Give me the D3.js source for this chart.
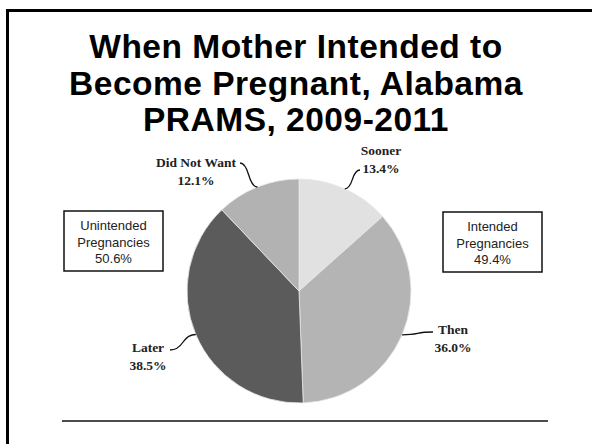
<!DOCTYPE html>
<html><head><meta charset="utf-8">
<script src="https://cdn.jsdelivr.net/npm/d3@7"></script>
<style>html,body{margin:0;padding:0;background:#fff;}svg{display:block;}</style>
</head><body>
<svg id="chart" width="592" height="444"></svg>
<script>
const titleLines = ["When Mother Intended to", "Become Pregnant, Alabama", "PRAMS, 2009-2011"];
const categories = ["Sooner", "Then", "Later", "Did Not Want"];
const values = [13.4, 36.0, 38.5, 12.1];
const colors = ["#e1e1e1", "#b4b4b4", "#5b5b5b", "#b2b2b2"];
const groupTitles = [["Unintended", "Pregnancies"], ["Intended", "Pregnancies"]];
const groupValues = [50.6, 49.4];

const svg = d3.select("#chart");
// frame
svg.append("path").attr("d", "M7.5,600 V10.5 H700").attr("fill", "none").attr("stroke", "#000").attr("stroke-width", 3);

// title
svg.append("g").selectAll("text").data(titleLines).join("text")
  .attr("x", 296).attr("y", (d, i) => 58 + i * 36.5)
  .attr("text-anchor", "middle")
  .attr("font-family", "'Liberation Sans', Arial, sans-serif")
  .attr("font-weight", "bold").attr("font-size", 33.5)
  .attr("letter-spacing", 0.5)
  .text(d => d);

const cx = 299, cy = 291, r = 112;
const pie = d3.pie().sort(null).value(d => d)(values);
const arc = d3.arc().innerRadius(0).outerRadius(r);
const g = svg.append("g").attr("transform", `translate(${cx},${cy})`);
g.selectAll("path").data(pie).join("path")
  .attr("d", arc).attr("fill", (d, i) => colors[i])
  .attr("stroke", "#e8e8e8").attr("stroke-width", 0.8);

// labels (position of text anchor relative to chart) and leader end
const labelPos = [
  {x: 381, y: 155, anchor: "middle", lx: 360, ly: 170},
  {x: 453, y: 334, anchor: "middle", lx: 433, ly: 332},
  {x: 148, y: 352, anchor: "middle", lx: 170, ly: 350},
  {x: 196, y: 167, anchor: "middle", lx: 240, ly: 163}
];
pie.forEach((d, i) => {
  const a = (d.startAngle + d.endAngle) / 2;
  const px = cx + r * Math.sin(a), py = cy - r * Math.cos(a);
  const p = labelPos[i];
  const mx = (px + p.lx) / 2, my = (py + p.ly) / 2;
  svg.append("path")
    .attr("d", `M${p.lx},${p.ly} Q${p.lx + (px - p.lx) * 0.3},${p.ly} ${mx},${my} T${px},${py}`)
    .attr("fill", "none").attr("stroke", "#111").attr("stroke-width", 1.3);
  const t = svg.append("text").attr("x", p.x).attr("y", p.y)
    .attr("text-anchor", p.anchor)
    .attr("font-family", "'Liberation Serif', 'Times New Roman', serif")
    .attr("font-weight", "bold").attr("font-size", 13.5).attr("fill", "#222");
  t.append("tspan").attr("x", p.x).text(categories[i]);
  t.append("tspan").attr("x", p.x).attr("dy", 18).text(d3.format(".1f")(values[i]) + "%");
});

// group boxes
const boxes = [{x: 64, y: 211, w: 99, h: 60}, {x: 443, y: 212, w: 99, h: 60}];
boxes.forEach((b, i) => {
  svg.append("rect").attr("x", b.x).attr("y", b.y).attr("width", b.w).attr("height", b.h)
    .attr("fill", "#fff").attr("stroke", "#111").attr("stroke-width", 1.5);
  const t = svg.append("text").attr("text-anchor", "middle")
    .attr("font-family", "'Liberation Sans', Arial, sans-serif")
    .attr("font-size", 13).attr("fill", "#222");
  const tx = b.x + b.w / 2;
  t.append("tspan").attr("x", tx).attr("y", b.y + 19).text(groupTitles[i][0]);
  t.append("tspan").attr("x", tx).attr("dy", 17).text(groupTitles[i][1]);
  t.append("tspan").attr("x", tx).attr("dy", 16).text(d3.format(".1f")(groupValues[i]) + "%");
});

// bottom rule
svg.append("line").attr("x1", 62).attr("x2", 548).attr("y1", 421).attr("y2", 421)
  .attr("stroke", "#111").attr("stroke-width", 1.5);
</script>
</body></html>
